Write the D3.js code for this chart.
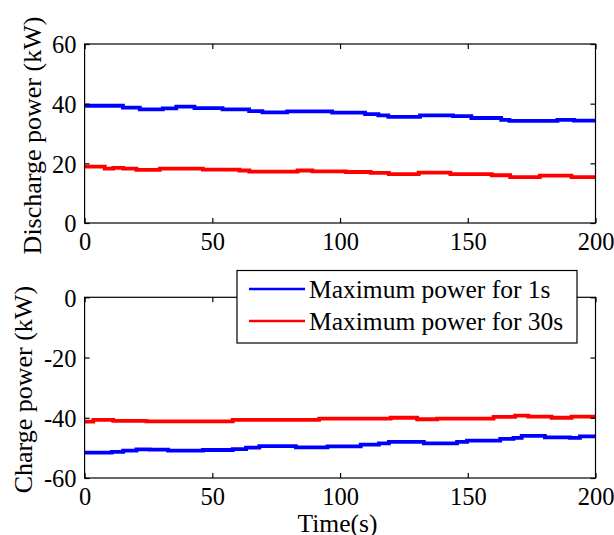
<!DOCTYPE html>
<html>
<head>
<meta charset="utf-8">
<script src="https://cdn.jsdelivr.net/npm/d3@7"></script>
<style>
  html, body { margin: 0; padding: 0; background: #fff; }
  svg { display: block; }
  text { font-family: "Liberation Serif", "Times New Roman", serif; fill: #000; }
</style>
</head>
<body>
<svg id="chart" width="614" height="535"></svg>
<script>
// Time axis ticks (s)
const timeTicks = [0, 50, 100, 150, 200];
const dischargeTicks = [0, 20, 40, 60];
const chargeTicks = [-60, -40, -20, 0];

// Step-wise maximum discharge power (kW): breakpoint times (s) and levels
const discharge1sTime  = [0, 15, 21.6, 30.6, 35.9, 43, 54, 64.4, 69.6, 79.3, 96.9, 109.8, 115, 118.9, 131.3, 144.2, 151.4, 163.1, 166.3, 185.1, 191.6, 200];
const discharge1sValue = [39.3, 38.7, 38.1, 38.4, 39.0, 38.5, 38.1, 37.5, 37.1, 37.4, 37.0, 36.5, 36.1, 35.6, 36.1, 35.8, 35.2, 34.6, 34.2, 34.6, 34.3, 34.3];
const discharge30sTime  = [0, 7.9, 11.2, 15.1, 20.3, 29.4, 46.3, 60.6, 64.5, 83.4, 89.2, 102.2, 112, 119.1, 130.8, 143.2, 159.4, 166.6, 178.2, 190.6, 200];
const discharge30sValue = [18.9, 18.2, 18.5, 18.2, 17.8, 18.2, 17.9, 17.6, 17.2, 17.6, 17.3, 17.1, 16.8, 16.4, 16.9, 16.4, 16.0, 15.4, 15.9, 15.4, 15.4];

// Step-wise maximum charge power (kW)
const charge1sTime  = [0, 10.6, 15.1, 20.3, 25.5, 32.7, 46.3, 58.0, 63.2, 68.4, 82.7, 95.1, 108.1, 115.2, 119.1, 132.8, 145.8, 149.7, 162.7, 167.9, 171.1, 180.2, 190, 193.9, 200];
const charge1sValue = [-51.6, -51.3, -50.9, -50.5, -50.6, -50.9, -50.7, -50.4, -49.9, -49.4, -49.8, -49.5, -48.9, -48.5, -48.0, -48.5, -48.0, -47.6, -47.0, -46.7, -46.0, -46.5, -46.7, -46.2, -46.2];
const charge30sTime  = [0, 3.4, 11.2, 24.2, 58.0, 91.8, 119.8, 130.2, 138, 160.1, 168.5, 173.7, 182.8, 190.6, 200];
const charge30sValue = [-41.3, -40.7, -41.0, -41.2, -40.7, -40.3, -40.0, -40.5, -40.3, -39.7, -39.3, -39.6, -40.0, -39.6, -39.6];

const seriesNames = ["Maximum power for 1s", "Maximum power for 30s"];
const seriesColors = ["#0000ff", "#ff0000"];

const svg = d3.select("#chart");
const left = 84.6, right = 595.5;
const x = d3.scaleLinear().domain([0, 200]).range([left, right]);
const plainNumber = d => String(d); // hyphen-minus for negatives

function zip(ts, vs) { return ts.map((t, i) => [t, vs[i]]); }

function panel(top, bottom, yDomain, yTicks, yLabel, series, labelX) {
  const y = d3.scaleLinear().domain(yDomain).range([bottom, top]);
  const g = svg.append("g");
  const tickLen = 5;

  // data lines
  const line = d3.line().x(d => x(d[0])).y(d => y(d[1])).curve(d3.curveStepAfter);
  series.forEach((s, i) => {
    g.append("path").datum(s).attr("d", line)
      .attr("fill", "none").attr("stroke", seriesColors[i])
      .attr("stroke-width", 3.8);
  });

  // bottom and left axes, ticks pointing inward
  const gx = g.append("g").attr("transform", `translate(0,${bottom})`)
    .call(d3.axisBottom(x).tickValues(timeTicks).tickSize(-tickLen).tickFormat(plainNumber));
  const gy = g.append("g").attr("transform", `translate(${left},0)`)
    .call(d3.axisLeft(y).tickValues(yTicks).tickSize(-tickLen).tickPadding(8).tickFormat(plainNumber));
  // mirrored ticks on top and right
  const gxt = g.append("g").attr("transform", `translate(0,${top})`)
    .call(d3.axisTop(x).tickValues(timeTicks).tickSize(-tickLen).tickFormat(""));
  const gyr = g.append("g").attr("transform", `translate(${right},0)`)
    .call(d3.axisRight(y).tickValues(yTicks).tickSize(-tickLen).tickFormat(""));

  [gx, gy, gxt, gyr].forEach(a => {
    a.attr("font-family", null).attr("font-size", null);
    a.select(".domain").remove();
    a.selectAll("line").attr("stroke", "#000").attr("stroke-width", 1.2);
    a.selectAll("text").style("font-size", "24.5px").attr("fill", "#000");
  });
  gx.selectAll("text").attr("dy", null).attr("y", 27);
  gy.selectAll("text").attr("dy", "0.36em");

  g.append("rect").attr("x", left).attr("y", top)
    .attr("width", right - left).attr("height", bottom - top)
    .attr("fill", "none").attr("stroke", "#000").attr("stroke-width", 1.2);

  g.append("text")
    .attr("transform", `translate(${labelX},${(top + bottom) / 2 + 2}) rotate(-90)`)
    .attr("text-anchor", "middle")
    .style("font-size", "26px")
    .text(yLabel);
  return g;
}

panel(44, 223, [0, 60], dischargeTicks, "Discharge power (kW)",
  [zip(discharge1sTime, discharge1sValue), zip(discharge30sTime, discharge30sValue)], 41);

panel(297.3, 478, [-60, 0], chargeTicks, "Charge power (kW)",
  [zip(charge1sTime, charge1sValue), zip(charge30sTime, charge30sValue)], 32);

svg.append("text")
  .attr("x", 337.5).attr("y", 532)
  .attr("text-anchor", "middle")
  .style("font-size", "25.5px")
  .text("Time(s)");

// legend
const lg = svg.append("g");
lg.append("rect").attr("x", 237).attr("y", 270.5).attr("width", 340).attr("height", 72.5)
  .attr("fill", "#fff").attr("stroke", "#000").attr("stroke-width", 1.2);
seriesNames.forEach((name, i) => {
  const yy = 289 + i * 32;
  lg.append("line").attr("x1", 249).attr("x2", 305).attr("y1", yy).attr("y2", yy)
    .attr("stroke", seriesColors[i]).attr("stroke-width", 2.5);
  lg.append("text").attr("x", 309).attr("y", yy + 9)
    .style("font-size", "25.5px").text(name);
});
</script>
</body>
</html>
